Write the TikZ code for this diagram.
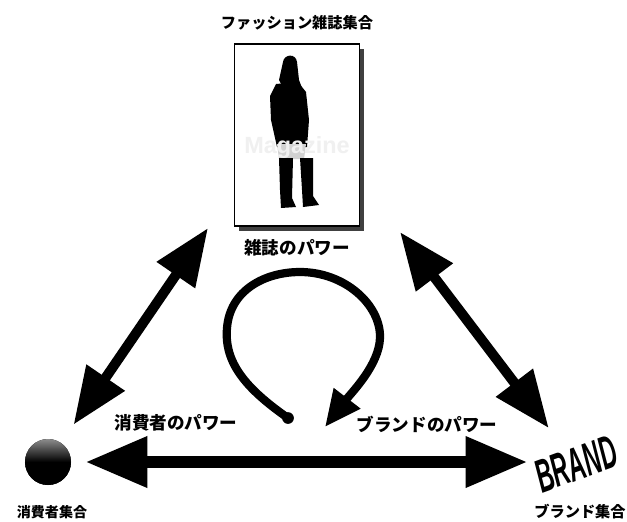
\documentclass[tikz,border=0pt]{standalone}
\usepackage{fontspec}
\setmainfont{Liberation Sans}
\newfontfamily\jp{Noto Sans CJK JP}
\usetikzlibrary{arrows.meta}

\begin{document}
\begin{tikzpicture}[x=0.03cm, y=-0.03cm,
    lbl/.style={font=\jp\bfseries\fontsize{15}{15}\selectfont},
    setlbl/.style={font=\jp\bfseries\fontsize{13}{13}\selectfont},
    diag/.style={line width=8.5pt, {Triangle[width=37.6pt,length=48.7pt]}-{Triangle[width=37.6pt,length=48.7pt]}},
    horiz/.style={line width=11pt, {Triangle[width=41pt,length=53pt]}-{Triangle[width=41pt,length=53pt]}},
    selfarrow/.style={line width=7pt, -{Triangle[width=27pt,length=31pt]}}]
    \useasboundingbox (0,0) rectangle (627,521);

    % Magazine cover
    \fill[black!75] (239,49) rectangle (364,231);
    \node[draw, line width=1.2pt, fill=white, rectangle, minimum width=3.75cm, minimum height=5.46cm] (mag) at (297,135) {};
    \fill (283,62) .. controls (284,54) and (296,53) .. (297,62) -- (299,80) -- (302,88) -- (284,90) -- (279,80) -- cycle;
    \fill (276,84) -- (298,82) -- (306,92) -- (309,120) -- (307,147) -- (277,147) -- (271,120) -- (270,96) -- cycle;
    \fill[gray!35] (277,144) -- (306,144) -- (304,159) -- (279,159) -- cycle;
    \fill (279,158) -- (293,158) -- (292,198) -- (296,207) -- (281,208) -- (280,190) -- cycle;
    \fill (300,158) -- (313,158) -- (313,196) -- (319,205) -- (303,207) -- (302,190) -- cycle;
    \node[text=gray!12, font=\bfseries\fontsize{20}{20}\selectfont] (title) at (297,147) {Magazine};

    % Nodes
    \node[circle, fill=black, minimum size=1.38cm, inner sep=0pt] (consumer) at (48,462) {};
    \shade[top color=black!45, bottom color=black, middle color=black] (consumer) circle [radius=0.69cm];
    \node[rotate=20, inner sep=0pt, font=\bfseries\itshape\fontsize{32}{32}\selectfont] (brand) at (576,464) {\scalebox{0.62}[1.25]{BRAND}};

    % Labels
    \node[setlbl] (magset) at (297,23) {ファッション雑誌集合};
    \node[lbl] (magpow) at (297,248) {雑誌のパワー};
    \node[lbl] (conpow) at (176,423) {消費者のパワー};
    \node[lbl] (brandpow) at (427,424) {ブランドのパワー};
    \node[setlbl, font=\jp\bfseries\fontsize{12}{12}\selectfont] (conset) at (52,512) {消費者集合};
    \node[setlbl] (brandset) at (580,512) {ブランド集合};

    % Arrows
    \coordinate (magL) at (208,228);
    \coordinate (magR) at (400,232);
    \draw[diag, shorten <=0.66cm] (consumer) -- (magL);
    \draw[diag, shorten >=1.35cm] (magR) -- (brand.center);
    \draw[horiz, shorten <=0.42cm, shorten >=1.45cm] (consumer) -- (brand.center |- consumer);

    % Magazine power loop
    \coordinate (loopstart) at (288,418);
    \draw[selfarrow] (loopstart) .. controls (245,388) and (224,362) .. (227,328)
        .. controls (230,290) and (265,272) .. (300,272)
        .. controls (345,272) and (381,305) .. (380,338)
        .. controls (379,365) and (352,392) .. (325,427);
    \fill (loopstart) circle [radius=5pt];
\end{tikzpicture}
\end{document}
